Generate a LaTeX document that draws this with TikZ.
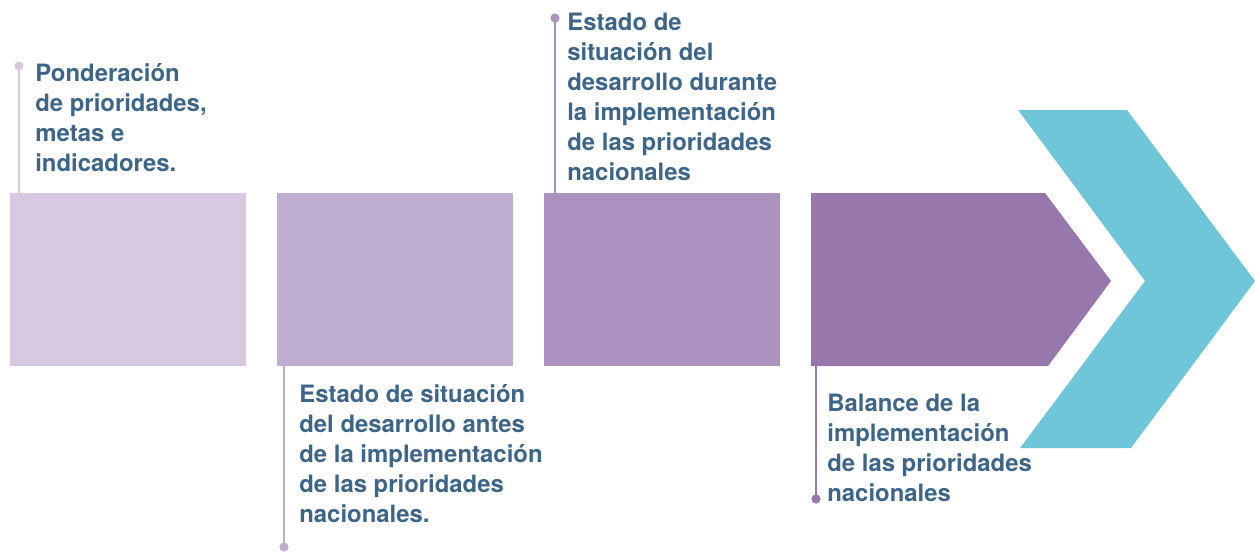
\documentclass[tikz,border=0pt]{standalone}
\usepackage{fontspec}
\setmainfont{TeX Gyre Heros}
\definecolor{lilaA}{RGB}{215,201,226}
\definecolor{lilaB}{RGB}{190,173,209}
\definecolor{lilaC}{RGB}{171,145,192}
\definecolor{lilaD}{RGB}{152,120,172}
\definecolor{cian}{RGB}{112,198,217}
\definecolor{texto}{RGB}{60,101,137}
\tikzset{
  etiqueta/.style={anchor=base west, inner sep=0pt, align=left, text=texto,
    font=\bfseries\fontsize{13.6}{17.07}\selectfont},
  hilo/.style={line width=0.04cm},
}
\begin{document}
\begin{tikzpicture}[x=0.02cm,y=-0.02cm]

%%%%%%%%%%%%%%%%%%%%%%
%%%	 Def geometria  %%%
%%%%%%%%%%%%%%%%%%%%%%

\def \haut{193}
\def \bas{366}
\def \largeur{236}
\def \rayon{4.6}

\useasboundingbox (0,0) rectangle (1255,552);

%%%%%%%%%%%%%%%%%%%%%%
%%%	    Dessin      %%%
%%%%%%%%%%%%%%%%%%%%%%

\fill[lilaA] (10,\haut) rectangle +(\largeur,\bas-\haut);
\fill[lilaB] (277,\haut) rectangle +(\largeur,\bas-\haut);
\fill[lilaC] (544,\haut) rectangle +(\largeur,\bas-\haut);
\fill[lilaD] (811,\haut) -- (1045,\haut) -- (1111,281) -- (1048,\bas) -- (811,\bas) -- cycle;

% le chevron
\fill[cian] (1018,110) -- (1127,110) -- (1255,281) -- (1131,448) -- (1020,448) -- (1145,281) -- cycle;

%%%%%%%%%%%%%%%%%%%%%%
%%%	    Reperes     %%%
%%%%%%%%%%%%%%%%%%%%%%

\coordinate (p1) at (19,66);
\coordinate (p2) at (284,547);
\coordinate (p3) at (555,18);
\coordinate (p4) at (816,499);

\draw[hilo, lilaA] (p1) -- (19,\haut);
\fill[lilaA] (p1) circle (\rayon);
\draw[hilo, lilaB] (284,\bas) -- (p2);
\fill[lilaB] (p2) circle (\rayon);
\draw[hilo, lilaC] (p3) -- (555,\haut);
\fill[lilaC] (p3) circle (\rayon);
\draw[hilo, lilaD] (816,\bas) -- (p4);
\fill[lilaD] (p4) circle (\rayon);

%%%%%%%%%%%%%%%%%%%%%%
%%%	    Textes      %%%
%%%%%%%%%%%%%%%%%%%%%%

% ancre sur la ligne de base de la derniere ligne
\node[etiqueta] (t1) at (35,171) {Ponderación\\de prioridades,\\metas e\\indicadores.};
\node[etiqueta] (t2) at (299,522) {Estado de situación\\del desarrollo antes\\de la implementación\\de las prioridades\\nacionales.};
\node[etiqueta] (t3) at (567,180) {Estado de\\situación del\\desarrollo durante\\la implementación\\de las prioridades\\nacionales};
\node[etiqueta] (t4) at (827,501) {Balance de la\\implementación\\de las prioridades\\nacionales};

\end{tikzpicture}
\end{document}
